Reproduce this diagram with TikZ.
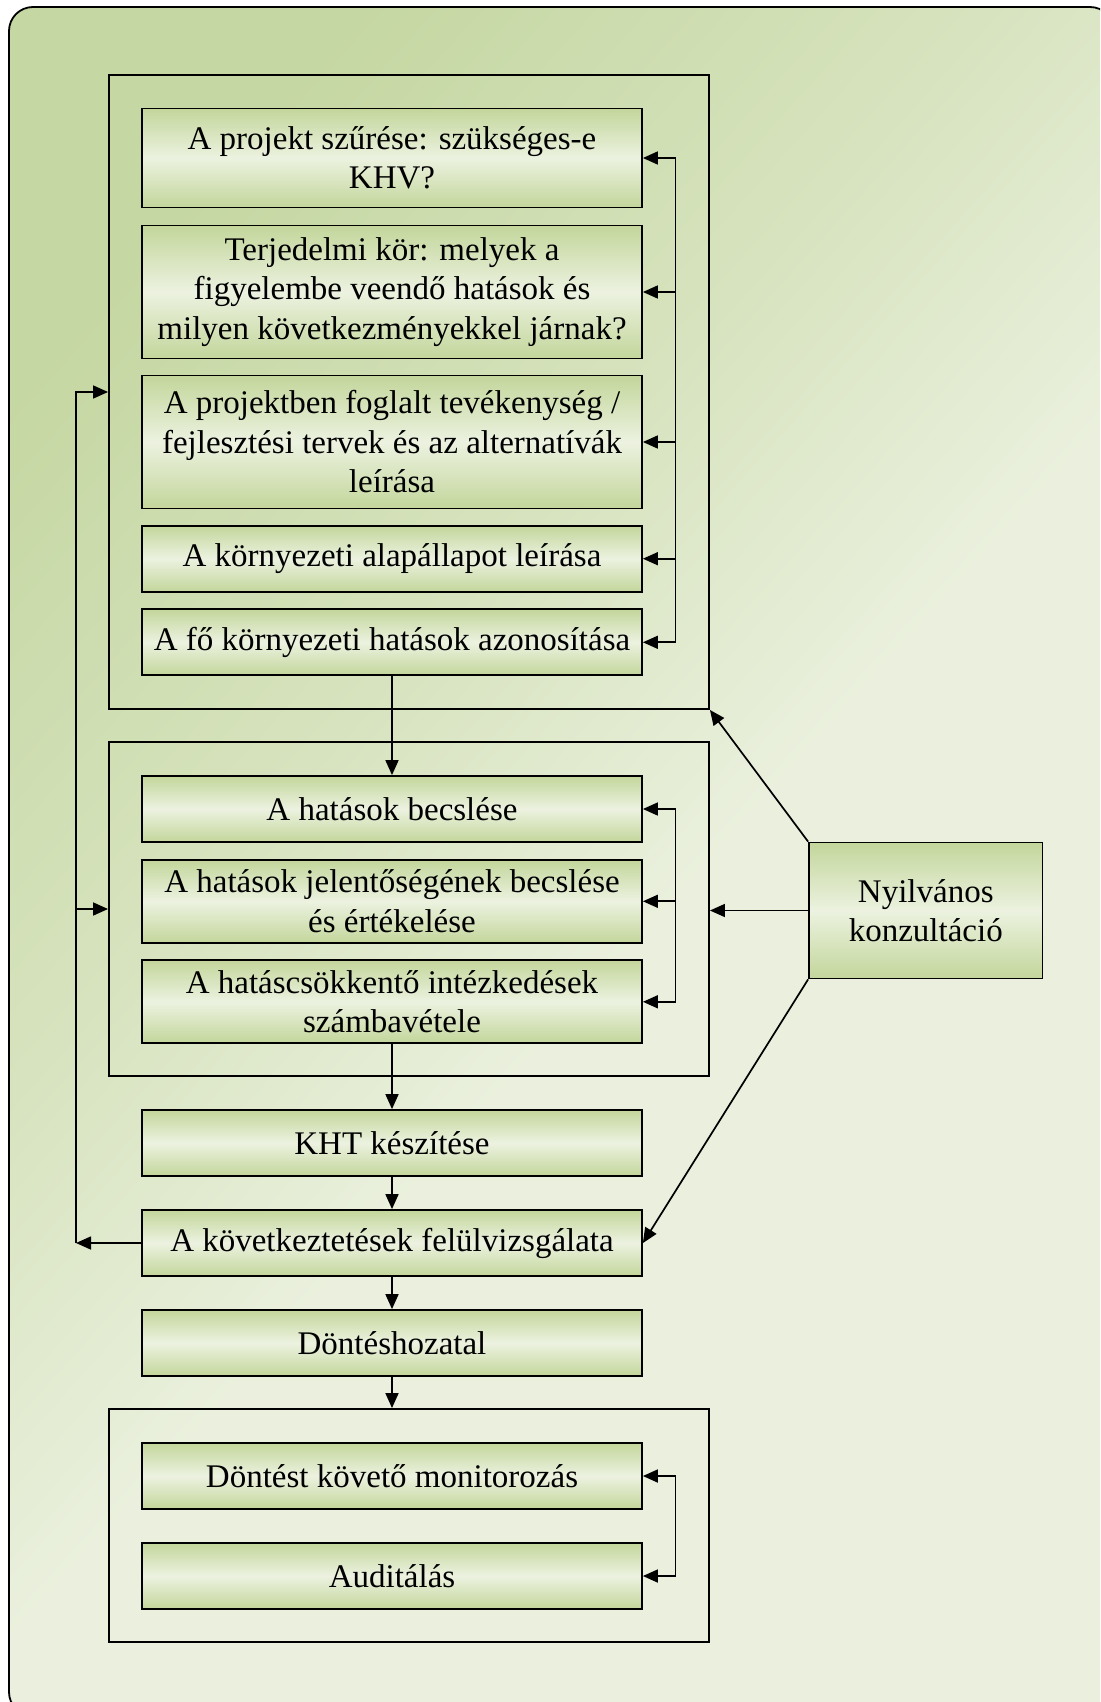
\documentclass[tikz,border=0pt]{standalone}
\usepackage{fontspec}
\setmainfont{Liberation Serif}
\usetikzlibrary{arrows.meta}
\definecolor{bgdark}{RGB}{197,215,162}
\definecolor{bglight}{RGB}{234,240,221}
\colorlet{bgmid}{bgdark!55!bglight}
\definecolor{boxdark}{RGB}{195,214,155}
\definecolor{boxlight}{RGB}{236,242,224}
% panel shading: light at the bottom end, darker towards the top end
\pgfdeclareverticalshading{panelshade}{100bp}{color(0bp)=(bglight); color(46bp)=(bglight); color(60bp)=(bgmid); color(76bp)=(bgdark); color(100bp)=(bgdark)}
\begin{document}
\begin{tikzpicture}[x=1pt,y=-1pt,
  stepbox/.style={draw=black, line width=1.8pt, minimum width=500pt,
    top color=boxdark, bottom color=boxdark, middle color=boxlight,
    align=center, inner sep=0pt, font=\fontsize{33}{39.5}\selectfont},
  framebox/.style={draw=black, line width=1.9pt, minimum width=600pt, inner sep=0pt},
  arr/.style={line width=1.7pt, -{Triangle[length=15pt,width=13pt]}},
  ln/.style={line width=1.7pt}]
\useasboundingbox (0,0) rectangle (1100,1702);
% background panel
\begin{scope}
\clip (0,0) rectangle (1100,1702);
\shade[draw=black, line width=1.8pt, rounded corners=24pt,
  shading=panelshade, shading angle=48]
  (9,7) rectangle (1114,1716);
\end{scope}

% group frames
\node[framebox, minimum height=634pt] (f1) at (409,392) {};
\node[framebox, minimum height=334pt] (f2) at (409,909) {};
\node[framebox, minimum height=233pt] (f3) at (409,1525.5) {};

% process steps
\node[stepbox, minimum height=99pt] (b1) at (392,158) {A projekt szűrése: szükséges-e\\KHV?};
\node[stepbox, minimum height=133pt] (b2) at (392,292) {Terjedelmi kör: melyek a\\figyelembe veendő hatások és\\milyen következményekkel járnak?};
\node[stepbox, minimum height=133pt] (b3) at (392,442) {A projektben foglalt tevékenység /\\fejlesztési tervek és az alternatívák\\leírása};
\node[stepbox, minimum height=66pt] (b4) at (392,558.7) {A környezeti alapállapot leírása};
\node[stepbox, minimum height=66pt] (b5) at (392,642.3) {A fő környezeti hatások azonosítása};
\node[stepbox, minimum height=66pt] (b6) at (392,809) {A hatások becslése};
\node[stepbox, minimum height=83pt] (b7) at (392,901.3) {A hatások jelentőségének becslése\\és értékelése};
\node[stepbox, minimum height=83pt] (b8) at (392,1001.8) {A hatáscsökkentő intézkedések\\számbavétele};
\node[stepbox, minimum height=66pt] (b9) at (392,1143) {KHT készítése};
\node[stepbox, minimum height=66pt] (b10) at (392,1243) {A következtetések felülvizsgálata};
\node[stepbox, minimum height=66pt] (b11) at (392,1343) {Döntéshozatal};
\node[stepbox, minimum height=66pt] (b12) at (392,1476) {Döntést követő monitorozás};
\node[stepbox, minimum height=66pt] (b13) at (392,1576) {Auditálás};
\node[stepbox, minimum width=233.5pt, minimum height=136pt] (ny) at (925.75,910.5) {Nyilvános\\konzultáció};

% feedback spines
\coordinate (sp) at (675.5,0);
\coordinate (lp) at (76,0);

\draw[ln] (sp |- b1.east) -- (sp |- b5.east);
\foreach \b in {b1,b2,b3,b4,b5} \draw[arr] (sp |- \b.east) -- (\b.east);
\draw[ln] (sp |- b6.east) -- (sp |- b8.east);
\foreach \b in {b6,b7,b8} \draw[arr] (sp |- \b.east) -- (\b.east);
\draw[ln] (sp |- b12.east) -- (sp |- b13.east);
\foreach \b in {b12,b13} \draw[arr] (sp |- \b.east) -- (\b.east);

% main flow
\draw[arr] (b5.south) -- (b6.north);
\draw[arr] (b8.south) -- (b9.north);
\draw[arr] (b9.south) -- (b10.north);
\draw[arr] (b10.south) -- (b11.north);
\draw[arr] (b11.south) -- (b11.south |- f3.north);

% review loop back to the groups
\coordinate (lb) at (lp |- b10.west);
\draw[arr] (b10.west) -- (lb);
\draw[arr] (lb) |- (f1.west);
\draw[arr] (lb) |- (f2.west);

% public consultation
\draw[arr] (ny.north west) -- (f1.south east);
\draw[arr] (ny.west) -- (ny.west -| f2.east);
\draw[arr] (ny.south west) -- (b10.east);
\end{tikzpicture}
\end{document}
